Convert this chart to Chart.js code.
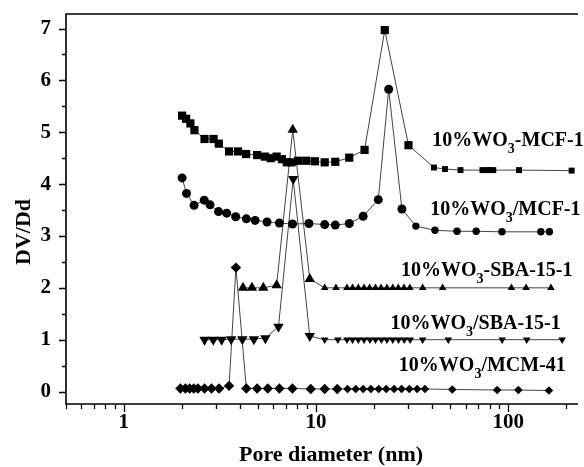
<!DOCTYPE html>
<html>
<head>
<meta charset="utf-8">
<script src="https://cdn.jsdelivr.net/npm/chart.js@4/dist/chart.umd.min.js"></script>
<style>
  html, body { margin: 0; padding: 0; background: #fff; }
</style>
</head>
<body>
<canvas id="chart" width="584" height="467"></canvas>
<script>
// pore diameter (nm) / dV/dD
const mcfDashX = [2.01, 2.11, 2.22, 2.33, 2.63, 2.93, 3.12, 3.53, 3.93, 4.33, 4.94, 5.42, 5.81, 6.24, 6.65, 7.05, 7.46, 8.07, 8.91, 9.87, 11.1, 12.6, 14.9, 17.9, 22.8, 30.3, 41.1, 46.9, 56.5, 73.5, 77.4, 80.5, 83.7, 114, 214];
const mcfDashY = [5.32, 5.26, 5.17, 5.04, 4.87, 4.87, 4.78, 4.63, 4.63, 4.58, 4.56, 4.53, 4.50, 4.53, 4.48, 4.42, 4.42, 4.45, 4.45, 4.44, 4.42, 4.43, 4.51, 4.66, 6.97, 4.75, 4.32, 4.29, 4.27, 4.27, 4.27, 4.27, 4.27, 4.27, 4.26];

const mcfSlashX = [2.01, 2.12, 2.32, 2.62, 2.81, 3.11, 3.43, 3.82, 4.34, 4.82, 5.56, 6.45, 7.55, 9.19, 11.1, 12.6, 14.9, 17.6, 21.1, 23.9, 28.0, 33.1, 41.6, 54.2, 68.2, 92.9, 148, 164];
const mcfSlashY = [4.12, 3.82, 3.59, 3.69, 3.60, 3.47, 3.44, 3.37, 3.33, 3.30, 3.27, 3.25, 3.23, 3.24, 3.22, 3.21, 3.24, 3.38, 3.70, 5.83, 3.52, 3.19, 3.11, 3.09, 3.09, 3.08, 3.08, 3.08];

const sbaDashX = [4.17, 4.64, 5.32, 6.24, 7.57, 9.28, 11.1, 12.7, 14.5, 15.5, 16.6, 17.8, 19.0, 20.4, 21.8, 23.4, 25.1, 26.8, 28.7, 30.8, 35.9, 45.6, 104, 124, 167];
const sbaDashY = [2.0, 2.0, 2.0, 2.05, 5.05, 2.17, 2.0, 2.0, 2.0, 2.0, 2.0, 2.0, 2.0, 2.0, 2.0, 2.0, 2.0, 2.0, 2.0, 2.0, 2.0, 2.0, 2.0, 2.0, 2.0];

const sbaSlashX = [2.63, 2.92, 3.23, 3.62, 4.14, 4.75, 5.45, 6.38, 7.61, 9.28, 11.1, 13.0, 14.5, 15.5, 16.6, 17.8, 19.1, 20.4, 21.9, 23.4, 25.1, 26.9, 28.8, 30.9, 35.9, 48.8, 93.1, 125, 191];
const sbaSlashY = [1.0, 1.0, 1.0, 1.01, 1.01, 1.01, 1.03, 1.25, 4.1, 1.07, 1.0, 1.0, 1.0, 1.0, 1.0, 1.0, 1.0, 1.0, 1.0, 1.0, 1.0, 1.0, 1.0, 1.0, 1.0, 1.0, 1.0, 1.0, 1.0];

const mcmX = [1.97, 2.09, 2.20, 2.31, 2.43, 2.63, 2.86, 3.13, 3.53, 3.83, 4.34, 4.94, 5.61, 6.45, 7.54, 9.39, 11.1, 12.9, 14.6, 16.1, 17.6, 19.3, 21.2, 23.2, 25.5, 27.9, 30.6, 33.6, 36.9, 51.2, 87.7, 113, 163];
const mcmY = [0.06, 0.06, 0.06, 0.06, 0.06, 0.06, 0.06, 0.06, 0.11, 2.39, 0.06, 0.06, 0.06, 0.06, 0.06, 0.05, 0.05, 0.05, 0.05, 0.05, 0.05, 0.05, 0.05, 0.05, 0.05, 0.05, 0.05, 0.05, 0.05, 0.04, 0.03, 0.03, 0.02];

const yTicks = [0, 1, 2, 3, 4, 5, 6, 7];
const xTicks = [1, 10, 100];

// text labels next to curves: [before subscript, subscript, after, x, y]
const curveLabels = [
  ["10%WO", "3", "-MCF-1", 40.3, 4.73],
  ["10%WO", "3", "/MCF-1", 39.3, 3.40],
  ["10%WO", "3", "-SBA-15-1", 27.7, 2.23],
  ["10%WO", "3", "/SBA-15-1", 24.4, 1.20],
  ["10%WO", "3", "/MCM-41", 27.0, 0.40],
];

const zip = (xs, ys) => xs.map((x, i) => ({ x, y: ys[i] }));

function series(xs, ys, style, rotation, lastBig, rBig, rSmall) {
  return {
    data: zip(xs, ys),
    showLine: true,
    borderColor: "#444",
    borderWidth: 1,
    pointStyle: style,
    rotation: rotation,
    pointBackgroundColor: "#000",
    pointBorderColor: "#000",
    pointBorderWidth: 0,
    pointRadius: (c) => (c.dataIndex <= lastBig ? rBig : rSmall),
    clip: false,
  };
}

const serif = '"Liberation Serif", "Times New Roman", serif';

const framePlugin = {
  id: "frame",
  afterDraw(chart) {
    const { ctx, chartArea: a } = chart;
    const xs = chart.scales.x;
    const ys = chart.scales.y;
    ctx.save();
    ctx.strokeStyle = "#000";
    ctx.lineWidth = 1.6;
    ctx.beginPath();
    ctx.moveTo(a.right, a.top);
    ctx.lineTo(a.left, a.top);
    ctx.lineTo(a.left, a.bottom);
    ctx.lineTo(a.right, a.bottom);
    ctx.stroke();

    // y ticks every 0.5
    ctx.lineWidth = 1.3;
    ctx.beginPath();
    for (let v = 0; v <= 7; v += 0.5) {
      const py = Math.round(ys.getPixelForValue(v)) + 0.5;
      const len = v % 1 === 0 ? 7 : 4;
      ctx.moveTo(a.left - len, py);
      ctx.lineTo(a.left, py);
    }
    // x ticks, log minor
    for (let dec = 0.1; dec <= 100; dec *= 10) {
      for (let m = 1; m <= 9; m++) {
        const v = dec * m;
        if (v < xs.min || v > xs.max) continue;
        const px = Math.round(xs.getPixelForValue(v)) + 0.5;
        const len = m === 1 ? 8 : 5;
        ctx.moveTo(px, a.bottom);
        ctx.lineTo(px, a.bottom + len);
      }
    }
    ctx.stroke();

    ctx.fillStyle = "#000";
    ctx.font = "bold 21px " + serif;
    ctx.textAlign = "right";
    ctx.textBaseline = "middle";
    yTicks.forEach((v) => ctx.fillText(String(v), a.left - 15, ys.getPixelForValue(v)));
    ctx.textAlign = "center";
    ctx.textBaseline = "top";
    xTicks.forEach((v) => ctx.fillText(String(v), xs.getPixelForValue(v), a.bottom + 8));

    ctx.font = "bold 22px " + serif;
    ctx.textBaseline = "alphabetic";
    ctx.fillText("Pore diameter (nm)", 331, 461);
    ctx.save();
    ctx.translate(30, 232);
    ctx.rotate(-Math.PI / 2);
    ctx.fillText("DV/Dd", 0, 0);
    ctx.restore();

    // curve labels with subscript 3
    ctx.textAlign = "left";
    curveLabels.forEach(([pre, sub, post, lx, ly]) => {
      let px = xs.getPixelForValue(lx);
      const py = ys.getPixelForValue(ly);
      ctx.font = "bold 20px " + serif;
      ctx.fillText(pre, px, py);
      px += ctx.measureText(pre).width;
      ctx.font = "bold 14px " + serif;
      ctx.fillText(sub, px, py + 7);
      px += ctx.measureText(sub).width;
      ctx.font = "bold 20px " + serif;
      ctx.fillText(post, px, py);
    });
    ctx.restore();
  },
};

new Chart(document.getElementById("chart"), {
  type: "scatter",
  data: {
    datasets: [
      series(mcfDashX, mcfDashY, "rect", 0, 25, 5.8, 4.2),
      series(mcfSlashX, mcfSlashY, "circle", 0, 20, 4.5, 3.7),
      series(sbaDashX, sbaDashY, "triangle", 0, 5, 6.0, 4.4),
      series(sbaSlashX, sbaSlashY, "triangle", 180, 9, 6.0, 4.4),
      series(mcmX, mcmY, "rectRot", 0, 17, 5.2, 4.3),
    ],
  },
  options: {
    responsive: false,
    animation: false,
    events: [],
    layout: { padding: { left: 66, top: 14, right: 0, bottom: 63 } },
    plugins: { legend: { display: false }, tooltip: { enabled: false } },
    scales: {
      x: { type: "logarithmic", min: 0.5, max: 231, display: false },
      y: { type: "linear", min: -0.24, max: 7.28, display: false },
    },
  },
  plugins: [framePlugin],
});
</script>
</body>
</html>
